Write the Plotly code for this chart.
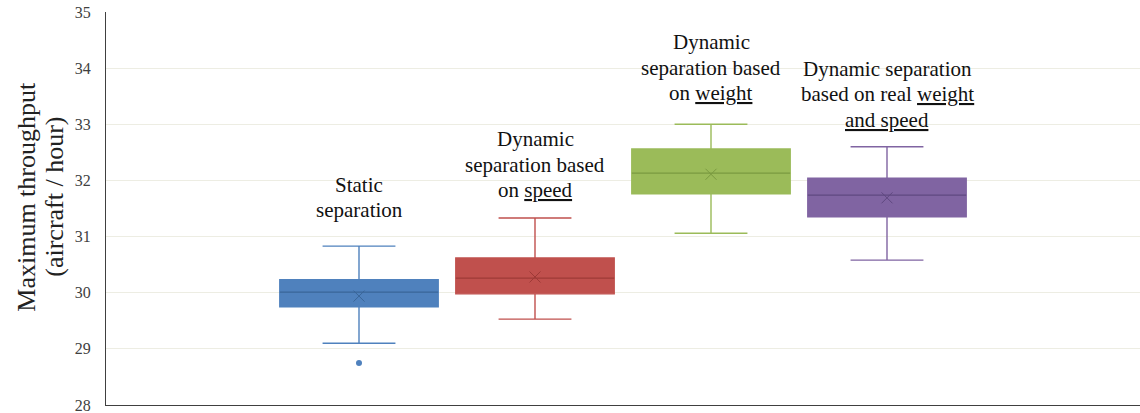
import plotly.graph_objects as go

# Summary statistics of maximum throughput for each separation scheme
schemes = ["Static separation", "Dynamic separation based on speed",
           "Dynamic separation based on weight",
           "Dynamic separation based on real weight and speed"]
labels = ["Static<br>separation",
          "Dynamic<br>separation based<br>on <u>speed</u>",
          "Dynamic<br>separation based<br>on <u>weight</u>",
          "Dynamic separation<br>based on real <u>weight</u><br><u>and speed</u>"]
lower_fence = [29.10, 29.53, 31.06, 30.58]
q1 = [29.75, 29.98, 31.76, 31.35]
median = [30.01, 30.26, 32.13, 31.74]
q3 = [30.23, 30.62, 32.56, 32.04]
upper_fence = [30.83, 31.33, 33.00, 32.60]
mean = [29.94, 30.28, 32.11, 31.69]
outlier_scheme = [0]
outlier_value = [28.75]
y_ticks = [28, 29, 30, 31, 32, 33, 34, 35]
y_title_lines = ["Maximum throughput", "(aircraft / hour)"]

fill_colors = ["#4F81BD", "#C0504D", "#9BBB59", "#8064A2"]
dark_colors = ["#3A6699", "#9E3A37", "#7A9A40", "#5F4880"]
label_shift = [22, 14, 17, 13]
LINE_STEP = 25.5
SERIF = "Liberation Serif"

BOX_W = 0.9
positions = list(range(len(schemes)))

fig = go.Figure()
for i, name in enumerate(schemes):
    fig.add_trace(go.Box(
        x=[positions[i]], q1=[q1[i]], median=[median[i]], q3=[q3[i]],
        lowerfence=[lower_fence[i]], upperfence=[upper_fence[i]],
        name=name, width=BOX_W, whiskerwidth=0.46,
        fillcolor=fill_colors[i], line=dict(color=fill_colors[i], width=1.4),
        boxpoints=False, showlegend=False, hoverinfo="skip",
    ))
    # median line in a darker shade
    fig.add_trace(go.Scatter(
        x=[positions[i] - BOX_W / 2, positions[i] + BOX_W / 2],
        y=[median[i], median[i]], mode="lines",
        line=dict(color=dark_colors[i], width=1.2),
        showlegend=False, hoverinfo="skip",
    ))
    # mean marker
    fig.add_trace(go.Scatter(
        x=[positions[i]], y=[mean[i]], mode="markers",
        marker=dict(symbol="x-thin", size=11,
                    line=dict(color=dark_colors[i], width=1)),
        showlegend=False, hoverinfo="skip",
    ))
    # label lines stacked above the upper whisker, tight line spacing
    lines = labels[i].split("<br>")
    for k, line in enumerate(reversed(lines)):
        fig.add_annotation(
            x=positions[i], y=upper_fence[i], text=line, showarrow=False,
            xanchor="center", yanchor="bottom",
            yshift=label_shift[i] + k * LINE_STEP,
            font=dict(family=SERIF, size=21, color="#111111"),
        )

fig.add_trace(go.Scatter(
    x=[positions[s] for s in outlier_scheme], y=outlier_value, mode="markers",
    marker=dict(symbol="circle", size=6, color=fill_colors[0]),
    showlegend=False, hoverinfo="skip",
))

# two-line rotated y-axis title
for x_px, line in zip([-79, -51], y_title_lines):
    fig.add_annotation(
        xref="paper", yref="paper", x=0, y=0.53, xshift=x_px,
        text=line, textangle=-90, showarrow=False,
        xanchor="center", yanchor="middle",
        font=dict(family=SERIF, size=26, color="#222222"),
    )

fig.update_layout(
    width=1140, height=413,
    margin=dict(l=106, r=0, t=12, b=8),
    paper_bgcolor="white", plot_bgcolor="white",
    font=dict(family=SERIF),
    xaxis=dict(range=[-1.4375, 4.4375], showticklabels=False, showgrid=False,
               zeroline=False, showline=True, linecolor="#404040", linewidth=1.2,
               ticks=""),
    yaxis=dict(range=[28, 35], tickvals=y_ticks, showgrid=True,
               gridcolor="#EDEDE3", gridwidth=1, zeroline=False, showline=True,
               linecolor="#404040", linewidth=1.2, ticks="",
               ticklabelstandoff=11, ticklabeloverflow="allow",
               tickfont=dict(family=SERIF, size=16, color="#404040")),
)

fig.write_html("out.html")
